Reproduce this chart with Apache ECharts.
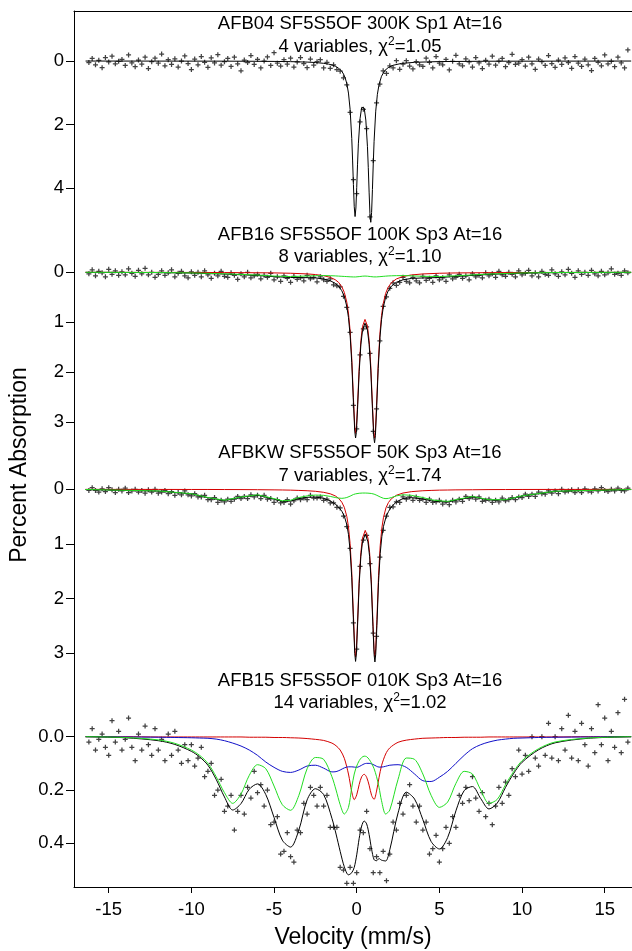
<!DOCTYPE html>
<html><head><meta charset="utf-8">
<script src="https://cdn.jsdelivr.net/npm/echarts@6/dist/echarts.min.js"></script>
<style>html,body{margin:0;padding:0;background:#fff}#chart{width:632px;height:951px}</style>
</head><body><div id="chart"></div>
<script>
// ---- channel velocities (mm/s) shared by all four spectra ----
const velocity = [
-16.2,-16,-15.8,-15.6,-15.4,-15.2,-15,-14.8,-14.6,-14.4,
-14.2,-14,-13.8,-13.6,-13.4,-13.2,-13,-12.8,-12.6,-12.4,
-12.2,-12,-11.8,-11.6,-11.4,-11.2,-11,-10.8,-10.6,-10.4,
-10.2,-10,-9.8,-9.6,-9.4,-9.2,-9,-8.8,-8.6,-8.4,
-8.2,-8,-7.8,-7.6,-7.4,-7.2,-7,-6.8,-6.6,-6.4,
-6.2,-6,-5.8,-5.6,-5.4,-5.2,-5,-4.8,-4.6,-4.4,
-4.2,-4,-3.8,-3.6,-3.4,-3.2,-3,-2.8,-2.6,-2.4,
-2.2,-2,-1.8,-1.6,-1.4,-1.2,-1,-0.8,-0.6,-0.4,
-0.2,0,0.2,0.4,0.6,0.8,1,1.2,1.4,1.6,
1.8,2,2.2,2.4,2.6,2.8,3,3.2,3.4,3.6,
3.8,4,4.2,4.4,4.6,4.8,5,5.2,5.4,5.6,
5.8,6,6.2,6.4,6.6,6.8,7,7.2,7.4,7.6,
7.8,8,8.2,8.4,8.6,8.8,9,9.2,9.4,9.6,
9.8,10,10.2,10.4,10.6,10.8,11,11.2,11.4,11.6,
11.8,12,12.2,12.4,12.6,12.8,13,13.2,13.4,13.6,
13.8,14,14.2,14.4,14.6,14.8,15,15.2,15.4,15.6,
15.8,16,16.2,16.4];

// ---- measured percent absorption (data points) ----
const absorb300K = [
0.05,-0.08,0.12,-0.02,0.21,-0.11,0.03,-0.15,0.09,0.01,
-0.05,0.14,-0.19,0.06,0.18,-0.03,0.1,-0.12,0.24,0.02,
-0.09,0.07,-0.22,0.15,-0.04,0.11,-0.07,0.19,0,-0.16,
0.08,0.27,-0.06,0.12,-0.14,0.04,0.2,-0.1,0.06,-0.2,
0.13,0.02,-0.08,0.17,-0.12,0.09,0.31,-0.03,0.05,-0.17,
0.11,-0.05,0.22,0,-0.13,0.14,-0.26,0.07,0.16,-0.04,
0.1,-0.09,0.19,0.03,-0.11,0.08,0.21,-0.06,0.13,0.02,
-0.04,0.22,0.04,0.23,0.12,0.27,0.32,0.53,0.75,1.62,
3.74,4.18,1.92,1.52,2.13,4.91,3.14,1.32,0.73,0.31,
0.39,0.15,0.22,-0.01,0.26,0.1,-0.01,0.16,0.25,0.02,
0.12,0.17,-0.09,0.04,0.22,-0.14,0.07,0.12,-0.05,0.28,
0.01,-0.18,0.09,0.15,-0.07,0.03,0.19,-0.11,0.06,0.24,
-0.02,0.1,-0.15,0.13,0,-0.08,0.18,0.05,-0.21,0.11,
0.07,-0.04,0.16,-0.12,0.09,0.26,-0.06,0.02,0.14,-0.17,
0.08,0.2,-0.03,0.11,-0.1,0.05,0.23,-0.14,0.07,0.17,
-0.06,0.12,0.3,-0.08,0.04,0.15,-0.19,0.09,0.01,0.18,
-0.12,0.06,0.22,-0.35];
const absorb100K = [
0.03,-0.05,0.07,-0.02,0.01,0.09,-0.06,0.04,-0.03,0.06,
-0.01,0.05,-0.07,0.02,0.08,-0.04,0.03,-0.08,0.05,0,
0.1,0.04,-0.03,0.06,0.01,-0.05,0.09,0.02,-0.02,0.07,
0.11,-0.01,0.06,0,0.09,-0.03,0.05,0.12,0.02,0.07,
-0.02,0.08,0.1,0.01,0.06,0.14,0.03,0.09,0,0.11,
0.07,0.04,0.13,0.06,0.1,0.02,0.15,0.09,0.18,0.07,
0.12,0.2,0.08,0.14,0.11,0.17,0.06,0.13,0.1,0.19,
0.09,0.15,0.18,0.13,0.25,0.27,0.29,0.48,0.7,1.2,
2.66,3.13,1.65,1.13,1.09,1.62,3.18,2.73,1.37,0.68,
0.49,0.32,0.21,0.26,0.2,0.1,0.18,0.21,0.1,0.17,
0.21,0.08,0.16,0.12,0.2,0.07,0.15,0.11,0.18,0.05,
0.13,0.1,0.04,0.12,0.07,0.15,0.03,0.09,0.06,0.11,
0.01,0.07,0.03,0.1,-0.02,0.05,0.08,0,0.04,0.09,
-0.03,0.05,0.02,-0.04,0.07,0.01,0.09,-0.02,0.04,0.06,
-0.05,0.03,0.08,-0.01,0.05,-0.06,0.02,0.1,-0.03,0.04,
0,0.06,-0.04,0.03,0.07,-0.02,0.05,0.01,-0.07,0.04,
0.02,0.06,-0.03,0.01];
const absorb50K = [
0.02,-0.03,0.02,0.05,-0.01,0.04,-0.03,0.01,0.06,0,
0.03,-0.02,0.06,0.03,0,0.05,0.02,0.07,0.01,0.05,
0,0.07,0.05,0.02,0.08,0.04,0.11,0.06,0.1,0.03,
0.1,0.12,0.08,0.14,0.14,0.11,0.19,0.19,0.15,0.24,
0.2,0.23,0.18,0.22,0.18,0.13,0.17,0.13,0.17,0.1,
0.14,0.11,0.17,0.11,0.18,0.17,0.24,0.19,0.25,0.24,
0.19,0.27,0.21,0.16,0.19,0.16,0.19,0.11,0.16,0.16,
0.14,0.2,0.18,0.25,0.25,0.33,0.34,0.49,0.68,1.08,
2.44,2.92,1.41,0.93,0.84,1.36,2.63,2.69,1.24,0.75,
0.49,0.33,0.32,0.23,0.24,0.14,0.18,0.14,0.2,0.14,
0.2,0.18,0.24,0.18,0.24,0.23,0.2,0.27,0.23,0.28,
0.2,0.23,0.18,0.22,0.13,0.17,0.14,0.18,0.14,0.22,
0.2,0.18,0.24,0.2,0.23,0.16,0.21,0.19,0.15,0.19,
0.14,0.15,0.09,0.13,0.09,0.13,0.05,0.08,0.09,0.03,
0.07,0.03,0.08,0,0.05,0.03,0.01,0.06,0.01,0.06,
-0.01,0.03,0.05,-0.01,0.03,-0.03,0.02,0.04,0,0.03,
-0.02,0.02,0.03,-0.02];
const absorb10K = [
0.02,-0.03,0.05,0.01,-0.01,0.04,0.07,-0.06,0.02,-0.02,
0.05,0.01,-0.07,0.04,0.09,-0.01,0.05,-0.04,0.03,0.07,
-0.03,0.05,0.01,0.09,-0.01,0.07,-0.02,0.05,0.1,0.03,
0.09,0.03,0.11,0.08,0.04,0.15,0.13,0.1,0.22,0.2,
0.16,0.28,0.26,0.22,0.35,0.28,0.22,0.29,0.19,0.23,
0.13,0.21,0.18,0.26,0.2,0.33,0.32,0.3,0.44,0.43,
0.36,0.45,0.47,0.35,0.36,0.25,0.29,0.19,0.22,0.26,
0.19,0.26,0.22,0.34,0.34,0.34,0.49,0.5,0.55,0.49,
0.55,0.51,0.35,0.36,0.28,0.42,0.51,0.45,0.51,0.43,
0.54,0.44,0.32,0.35,0.25,0.29,0.22,0.18,0.26,0.32,
0.26,0.35,0.32,0.44,0.42,0.37,0.47,0.42,0.34,0.4,
0.3,0.34,0.22,0.25,0.19,0.24,0.15,0.23,0.28,0.21,
0.3,0.25,0.33,0.26,0.19,0.25,0.17,0.22,0.12,0.15,
0.05,0.14,0.07,0.13,0,0.08,0.11,0,0.07,-0.05,
0.08,0,0.09,-0.03,0.05,-0.08,0.08,-0.02,0.09,-0.05,
0.03,0.11,-0.03,0.06,-0.12,0.03,-0.07,0.09,-0.02,0.04,
-0.09,0.06,-0.14,0.02];

// ---- fitted curves ----
const fitX300K = [-16.4,-8,-6,-5,-4,-3,-2.5,-2,-1.7,-1.5,-1.3,-1.1,-1,-0.9,-0.8,-0.7,-0.6,-0.5,-0.4,-0.3,-0.25,-0.2,-0.15,-0.1,-0.05,0,0.05,0.1,0.2,0.3,0.375,0.45,0.55,0.65,0.7,0.75,0.8,0.85,0.9,0.95,1,1.05,1.15,1.25,1.35,1.5,1.7,1.9,2.2,2.7,3.5,5,8,16.6];
const fit300K = [0.001,0.005,0.009,0.013,0.02,0.034,0.048,0.073,0.098,0.124,0.162,0.223,0.27,0.327,0.41,0.53,0.71,1.01,1.52,2.44,3.12,3.89,4.59,4.9,4.63,3.98,3.25,2.61,1.82,1.46,1.4,1.48,1.86,2.7,3.36,4.13,4.81,5.09,4.77,4.05,3.24,2.53,1.58,1.05,0.74,0.48,0.3,0.21,0.135,0.077,0.041,0.018,0.007,0.001];

const fitX100K = [-16.4,-12,-10,-8,-6,-5,-4,-3,-2.5,-2,-1.6,-1.3,-1.1,-0.9,-0.75,-0.6,-0.5,-0.4,-0.3,-0.2,-0.12,-0.07,-0.02,0.05,0.15,0.25,0.35,0.5,0.65,0.75,0.85,0.95,1.03,1.08,1.13,1.2,1.3,1.4,1.5,1.6,1.75,1.9,2.1,2.4,2.8,3.3,4,5,6,8,10,12,16.6];
const fit100K = [0.001,0.006,0.015,0.035,0.064,0.087,0.104,0.107,0.113,0.133,0.169,0.22,0.276,0.369,0.485,0.683,0.903,1.252,1.808,2.597,3.176,3.314,3.2,2.738,1.988,1.452,1.161,1.017,1.156,1.441,1.955,2.722,3.291,3.409,3.268,2.752,1.924,1.325,0.948,0.711,0.498,0.373,0.277,0.2,0.15,0.123,0.113,0.104,0.083,0.042,0.017,0.007,0.001];
const red100K = [0.001,0.002,0.003,0.005,0.009,0.012,0.019,0.032,0.045,0.068,0.101,0.148,0.2,0.289,0.402,0.597,0.815,1.162,1.716,2.504,3.083,3.221,3.108,2.648,1.902,1.37,1.083,0.942,1.078,1.359,1.869,2.632,3.199,3.316,3.175,2.66,1.834,1.238,0.864,0.63,0.421,0.3,0.207,0.133,0.084,0.053,0.033,0.019,0.013,0.007,0.004,0.003,0.001];
const green100K = [0,0.004,0.012,0.03,0.055,0.075,0.085,0.075,0.068,0.065,0.068,0.072,0.076,0.08,0.083,0.086,0.088,0.09,0.092,0.093,0.093,0.093,0.092,0.09,0.086,0.082,0.078,0.075,0.078,0.082,0.086,0.09,0.092,0.093,0.093,0.092,0.09,0.087,0.084,0.081,0.077,0.073,0.07,0.067,0.066,0.07,0.08,0.085,0.07,0.035,0.013,0.004,0];

const fitX50K = [-16.4,-12,-10,-9,-8,-7,-6,-5,-4.5,-4,-3.5,-3,-2.5,-2,-1.6,-1.3,-1.1,-0.9,-0.75,-0.6,-0.5,-0.4,-0.3,-0.2,-0.12,-0.07,-0.02,0.05,0.15,0.25,0.35,0.515,0.68,0.78,0.88,0.98,1.05,1.1,1.15,1.22,1.32,1.42,1.52,1.62,1.77,1.92,2.1,2.4,2.8,3.3,4,4.5,5,5.5,6,7,8,9,10,12,16.6];
const fit50K = [0.004,0.032,0.083,0.153,0.204,0.145,0.107,0.18,0.222,0.215,0.17,0.146,0.141,0.165,0.212,0.27,0.323,0.401,0.49,0.645,0.824,1.117,1.618,2.39,3.001,3.147,3.011,2.499,1.727,1.228,0.959,0.819,0.961,1.23,1.731,2.505,3.019,3.157,3.014,2.491,1.699,1.172,0.863,0.676,0.508,0.406,0.321,0.229,0.168,0.153,0.176,0.21,0.225,0.233,0.2,0.138,0.195,0.194,0.123,0.037,0.004];
const red50K = [0.001,0.002,0.003,0.003,0.004,0.005,0.007,0.01,0.012,0.015,0.02,0.026,0.036,0.055,0.082,0.12,0.163,0.236,0.33,0.495,0.684,0.992,1.508,2.295,2.914,3.064,2.931,2.423,1.655,1.158,0.891,0.751,0.891,1.158,1.655,2.423,2.931,3.064,2.914,2.381,1.574,1.032,0.708,0.511,0.338,0.241,0.171,0.109,0.068,0.043,0.026,0.02,0.015,0.013,0.01,0.008,0.005,0.004,0.003,0.002,0.001];
const green50K = [0.003,0.03,0.08,0.15,0.2,0.14,0.1,0.17,0.21,0.2,0.15,0.12,0.105,0.11,0.13,0.15,0.16,0.165,0.16,0.15,0.14,0.125,0.11,0.095,0.087,0.083,0.08,0.076,0.072,0.07,0.068,0.068,0.07,0.072,0.076,0.082,0.088,0.093,0.1,0.11,0.125,0.14,0.155,0.165,0.17,0.165,0.15,0.12,0.1,0.11,0.15,0.19,0.21,0.22,0.19,0.13,0.19,0.19,0.12,0.035,0.003];

const fitX10K = [-16.4,-14,-12,-11,-10,-9.5,-9,-8.5,-8,-7.5,-7,-6.5,-6,-5.5,-5,-4.5,-4,-3.5,-3,-2.5,-2,-1.5,-1.25,-1,-0.75,-0.5,-0.3,-0.15,0,0.15,0.3,0.45,0.6,0.75,0.9,1.05,1.2,1.35,1.5,1.75,2,2.5,3,3.5,4,4.5,5,5.5,6,6.5,7,7.5,8,8.5,9,9.5,10,11,12,14,16.6];
const fit10K = [0,0.004,0.015,0.029,0.055,0.076,0.107,0.16,0.226,0.275,0.251,0.197,0.177,0.217,0.303,0.388,0.414,0.35,0.237,0.195,0.217,0.306,0.365,0.43,0.488,0.518,0.51,0.49,0.443,0.381,0.335,0.316,0.327,0.367,0.422,0.461,0.465,0.457,0.463,0.466,0.424,0.286,0.208,0.234,0.311,0.393,0.421,0.378,0.278,0.202,0.187,0.232,0.271,0.249,0.19,0.137,0.096,0.049,0.023,0.006,0];
const red10K = [0,0,0.001,0.001,0.001,0.001,0.001,0.001,0.001,0.001,0.001,0.002,0.002,0.002,0.003,0.003,0.004,0.005,0.007,0.01,0.014,0.024,0.034,0.05,0.081,0.14,0.207,0.236,0.218,0.179,0.15,0.141,0.152,0.182,0.22,0.235,0.204,0.153,0.109,0.065,0.042,0.021,0.013,0.009,0.006,0.005,0.004,0.003,0.003,0.002,0.002,0.002,0.001,0.001,0.001,0.001,0.001,0.001,0.001,0,0];
const green10K = [0,0.003,0.012,0.025,0.05,0.07,0.1,0.15,0.21,0.25,0.215,0.145,0.105,0.12,0.185,0.255,0.276,0.22,0.12,0.078,0.085,0.15,0.2,0.255,0.29,0.265,0.19,0.14,0.11,0.09,0.078,0.073,0.075,0.085,0.1,0.12,0.15,0.19,0.24,0.29,0.275,0.16,0.08,0.085,0.14,0.22,0.265,0.245,0.175,0.13,0.14,0.2,0.25,0.235,0.18,0.13,0.09,0.045,0.02,0.005,0];
const blue10K = [0,0.001,0.002,0.003,0.004,0.005,0.006,0.009,0.015,0.024,0.035,0.05,0.07,0.095,0.115,0.13,0.134,0.125,0.11,0.107,0.118,0.132,0.131,0.125,0.117,0.113,0.113,0.114,0.115,0.112,0.107,0.102,0.1,0.1,0.102,0.106,0.111,0.114,0.114,0.111,0.107,0.105,0.115,0.14,0.165,0.168,0.152,0.13,0.1,0.07,0.045,0.03,0.02,0.013,0.009,0.006,0.005,0.003,0.002,0.001,0];

// ---- ticks and labels ----
const xTicks = [-15,-10,-5,0,5,10,15];
const yTicks300K = [0,2,4];
const yTicks100K = [0,1,2,3];
const yTicks50K = [0,1,2,3];
const yTicks10K = [0,0.2,0.4];
const titleLines = [
  ['AFB04 SF5S5OF 300K Sp1 At=16', '4 variables, \u03c7{sup|2}=1.05'],
  ['AFB16 SF5S5OF 100K Sp3 At=16', '8 variables, \u03c7{sup|2}=1.10'],
  ['AFBKW SF5S5OF 50K Sp3 At=16', '7 variables, \u03c7{sup|2}=1.74'],
  ['AFB15 SF5S5OF 010K Sp3 At=16', '14 variables, \u03c7{sup|2}=1.02']
];

const FONT = '"Liberation Sans", Arial, Helvetica, sans-serif';
const RED = '#d40000', GREEN = '#22dd22', BLUE = '#1010c8', BLACK = '#000';
const PLUS = 'path://M-0.5,-2H0.5V-0.5H2V0.5H0.5V2H-0.5V0.5H-2V-0.5H-0.5Z';

const panels = [
  {top: 11,  height: 211, min: -1.575, max: 5.071, ticks: yTicks300K, dec: 0, pts: absorb300K,
   lines: [[fitX300K, fit300K, BLACK]], ty: [24, 47]},
  {top: 222, height: 224, min: -1.006, max: 3.474, ticks: yTicks100K, dec: 0, pts: absorb100K,
   lines: [[fitX100K, red100K, RED], [fitX100K, fit100K, BLACK], [fitX100K, green100K, GREEN]], ty: [235, 257]},
  {top: 446, height: 221, min: -0.792, max: 3.249, ticks: yTicks50K, dec: 0, pts: absorb50K,
   lines: [[fitX50K, red50K, RED], [fitX50K, fit50K, BLACK], [fitX50K, green50K, GREEN]], ty: [453, 476]},
  {top: 667, height: 220, min: -0.2613, max: 0.5636, ticks: yTicks10K, dec: 1, pts: absorb10K,
   lines: [[fitX10K, red10K, RED], [fitX10K, blue10K, BLUE], [fitX10K, fit10K, BLACK], [fitX10K, green10K, GREEN]], ty: [681, 703]}
];

const grid = [], xAxis = [], yAxis = [], series = [], graphic = [];
panels.forEach((p, i) => {
  grid.push({left: 74, right: 0, top: p.top, height: p.height, outerBoundsMode: 'none', containLabel: false});
  const last = i === panels.length - 1;
  xAxis.push({
    type: 'value', gridIndex: i, min: -17.1, max: 16.65,
    show: i === 0 || last, position: i === 0 ? 'top' : 'bottom',
    axisLine: {show: true, onZero: false, lineStyle: {color: BLACK, width: 1}},
    axisTick: {show: last, length: 6, customValues: xTicks, lineStyle: {color: BLACK}},
    axisLabel: {show: last, customValues: xTicks, fontSize: 18.5, fontFamily: FONT, color: BLACK, margin: 13},
    splitLine: {show: false},
    name: last ? 'Velocity (mm/s)' : '', nameLocation: 'middle', nameGap: 39,
    nameTextStyle: {fontSize: 23, fontFamily: FONT, color: BLACK}
  });
  yAxis.push({
    type: 'value', gridIndex: i, min: p.min, max: p.max, inverse: true, position: 'left',
    axisLine: {show: true, onZero: false, lineStyle: {color: BLACK, width: 1}},
    axisTick: {show: true, length: 8, customValues: p.ticks, lineStyle: {color: BLACK}},
    axisLabel: {show: true, customValues: p.ticks, fontSize: 18.5, fontFamily: FONT, color: BLACK, margin: 10,
      formatter: v => v.toFixed(p.dec)},
    splitLine: {show: false}
  });
  series.push({
    type: 'scatter', xAxisIndex: i, yAxisIndex: i, symbol: PLUS, symbolSize: 5,
    itemStyle: {color: '#111'}, data: velocity.map((v, k) => [v, p.pts[k]]), z: 2, silent: true
  });
  p.lines.forEach((ln, j) => {
    series.push({
      type: 'line', xAxisIndex: i, yAxisIndex: i, showSymbol: false, symbol: 'none',
      smooth: last ? 0.3 : false, lineStyle: {color: ln[2], width: 1}, z: 3 + j, silent: true,
      data: ln[0].map((v, k) => [v, ln[1][k]])
    });
  });
  graphic.push({type: 'text', x: 360, y: p.ty[0], z: 100,
    style: {text: titleLines[i][0], fontSize: 18.5, fontFamily: FONT, fill: BLACK, align: 'center', verticalAlign: 'middle'}});
  graphic.push({type: 'text', x: 360, y: p.ty[1], z: 100,
    style: {text: titleLines[i][1], fontSize: 18.5, fontFamily: FONT, fill: BLACK, align: 'center', verticalAlign: 'middle',
      lineHeight: 22,
      rich: {sup: {fontSize: 12, fontFamily: FONT, fill: BLACK, lineHeight: 10, verticalAlign: 'top'}}}});
});
graphic.push({type: 'text', x: 20, y: 465, rotation: Math.PI / 2, z: 100,
  style: {text: 'Percent Absorption', fontSize: 23, fontFamily: FONT, fill: BLACK, align: 'center', verticalAlign: 'middle'}});

const chart = echarts.init(document.getElementById('chart'), null, {renderer: 'canvas'});
chart.setOption({animation: false, backgroundColor: '#fff', grid, xAxis, yAxis, series, graphic});
</script></body></html>
